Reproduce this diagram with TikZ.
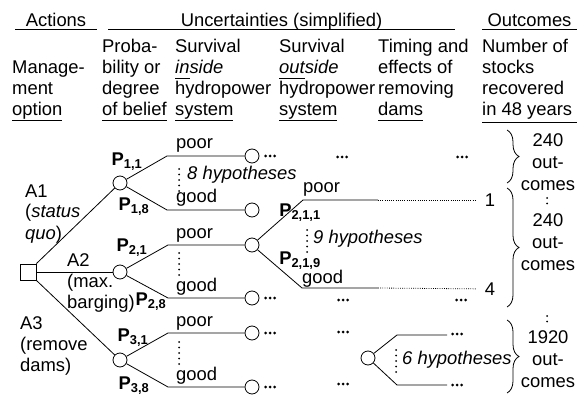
\documentclass[tikz,border=0pt]{standalone}
\usepackage{fontspec}
\setmainfont{Liberation Sans}
\usetikzlibrary{decorations.pathreplacing}
\newcommand\myul[1]{\setbox0\hbox{#1}\rlap{\rule[-5pt]{\wd0}{0.9pt}}\box0}
\begin{document}
\begin{tikzpicture}[x=1pt,y=-1pt,
  font=\fontsize{18.4}{21}\selectfont,
  every node/.style={inner sep=0pt},
  txt/.style={anchor=base west},
  ctr/.style={anchor=base},
  chance/.style={circle, draw, minimum size=14pt, inner sep=0pt, line width=0.8pt, fill=white},
  decision/.style={rectangle, draw, minimum size=16pt, inner sep=0pt, line width=0.8pt},
  edge/.style={line width=0.8pt},
  rulel/.style={line width=0.9pt},
  vdots/.style={line width=2pt, line cap=round, dash pattern=on 0pt off 5.5pt},
  fdots/.style={line width=0.8pt, dash pattern=on 0.8pt off 1.4pt},
  plabel/.style={font=\fontsize{18.4}{21}\selectfont\bfseries},
  hyp/.style={anchor=base west, font=\fontsize{18.4}{21}\selectfont\itshape},
  brc/.style={decorate, decoration={brace, amplitude=12pt}, line width=0.8pt},
  ell/.pic={\fill (-4.5,0) circle (1.5pt) (0,0) circle (1.5pt) (4.5,0) circle (1.5pt);}
]
\useasboundingbox (0,0) rectangle (588,395);

% ---- header row 1
\node[ctr] (hAct) at (56,27) {Actions};
\node[ctr] (hUnc) at (281.5,27) {Uncertainties (simplified)};
\node[ctr] (hOut) at (529.5,27) {Outcomes};
\draw[rulel] (15,29.5) -- (97,29.5);
\draw[rulel] (108,29.5) -- (455,29.5);
\draw[rulel] (482,29.5) -- (577,29.5);

% ---- header row 2
\node[txt] (c1b) at (12,74) {Manage-};
\node[txt] (c1c) at (12,95) {ment};
\node[txt] (c1d) at (12,116) {\myul{option}};

\node[txt] (c2a) at (102,53) {Proba-};
\node[txt] (c2b) at (102,74) {bility or};
\node[txt] (c2c) at (102,95) {degree};
\node[txt] (c2d) at (102,116) {\myul{of belief}};

\node[txt] (c3a) at (175,53) {Survival};
\node[txt] (c3b) at (175,74) {\textit{\myul{in}side}};
\node[txt] (c3c) at (175,95) {hydropower};
\node[txt] (c3d) at (175,116) {\myul{system}};

\node[txt] (c4a) at (279,53) {Survival};
\node[txt] (c4b) at (279,74) {\textit{\myul{out}side}};
\node[txt] (c4c) at (279,95) {hydropower};
\node[txt] (c4d) at (279,116) {\myul{system}};

\node[txt] (c5a) at (378,53) {Timing and};
\node[txt] (c5b) at (378,74) {effects of};
\node[txt] (c5c) at (378,95) {removing};
\node[txt] (c5d) at (378,116) {\myul{dams}};

\node[txt] (c6a) at (482,53) {Number of};
\node[txt] (c6b) at (482,74) {stocks};
\node[txt] (c6c) at (482,95) {recovered};
\node[txt] (c6d) at (482,116) {in 48 years};
\draw[rulel] (482,122) -- (577,122);

% ---- tree nodes
\node[decision] (dec) at (28,272) {};
\node[chance] (c1) at (120,183) {};
\node[chance] (c2) at (120,272) {};
\node[chance] (c3) at (120,360) {};
\node[chance] (t11) at (252,156) {};
\node[chance] (t18) at (252,210) {};
\node[chance] (t21) at (252,245) {};
\node[chance] (t28) at (252,298) {};
\node[chance] (t31) at (252,333) {};
\node[chance] (t38) at (252,387) {};
\node[chance] (c6) at (368,358) {};

\coordinate (b11) at (167,156);
\coordinate (b18) at (167,210);
\coordinate (b21) at (168,245);
\coordinate (b28) at (168,298);
\coordinate (b31) at (168,333);
\coordinate (b38) at (168,387);
\coordinate (s1) at (303,200);
\coordinate (e1) at (378,200);
\coordinate (s9) at (302,288);
\coordinate (e9) at (378,288);
\coordinate (h1) at (397,335);
\coordinate (h1e) at (447,335);
\coordinate (h6) at (397,385);
\coordinate (h6e) at (447,385);

% action edges
\draw[edge] (dec.north east) -- (c1);
\draw[edge] (dec) -- (c2);
\draw[edge] (dec.south east) -- (c3);
% probability edges
\draw[edge] (c1) -- (b11) -- (t11);
\draw[edge] (c1) -- (b18) -- (t18);
\draw[edge] (c2) -- (b21) -- (t21);
\draw[edge] (c2) -- (b28) -- (t28);
\draw[edge] (c3) -- (b31) -- (t31);
\draw[edge] (c3) -- (b38) -- (t38);
% sub-tree
\node (n1) at (490,200) {1};
\node (n4) at (490,289) {4};
\draw[edge] (t21) -- (s1) -- (e1);
\draw[edge] (t21) -- (s9) -- (e9);
\draw[fdots, shorten >=8pt] (e1) -- (n1);
\draw[fdots, shorten >=8pt] (e9) -- (n4);
\draw[edge] (c6) -- (h1) -- (h1e);
\draw[edge] (c6) -- (h6) -- (h6e);

% action labels
\node[txt] (a1a) at (25,197) {A1};
\node[txt] (a1b) at (25,218) {(\textit{status}};
\node[txt] (a1c) at (25,239) {\textit{quo})};
\node[txt] (a2a) at (67,266) {A2};
\node[txt] (a2b) at (67,287) {(max.};
\node[txt] (a2c) at (67,308) {barging)};
\node[txt] (a3a) at (20,329) {A3};
\node[txt] (a3b) at (20,350) {(remove};
\node[txt] (a3c) at (20,371) {dams)};

% probability labels
\node[plabel] (p11) at (127,162) {P\textsubscript{1,1}};
\node[plabel] (p18) at (134,207) {P\textsubscript{1,8}};
\node[plabel] (p21) at (132,247.5) {P\textsubscript{2,1}};
\node[plabel] (p28) at (151,302) {P\textsubscript{2,8}};
\node[plabel] (p31) at (133,337.5) {P\textsubscript{3,1}};
\node[plabel] (p38) at (134,386) {P\textsubscript{3,8}};
\node[plabel] (p211) at (300,213) {P\textsubscript{2,1,1}};
\node[plabel] (p219) at (300,260.5) {P\textsubscript{2,1,9}};

% poor / good
\node[txt] (po1) at (176,149) {poor};
\node[txt] (go1) at (176,203) {good};
\node[txt] (po2) at (176,238) {poor};
\node[txt] (go2) at (176,291) {good};
\node[txt] (po3) at (176,326) {poor};
\node[txt] (go3) at (176,380) {good};
\node[txt] (po4) at (303,193) {poor};
\node[txt] (go4) at (302,283) {good};

% hypotheses
\node[hyp] (hy8) at (187,180) {8 hypotheses};
\node[hyp] (hy9) at (313,243) {9 hypotheses};
\node[hyp] (hy6) at (402,364) {6 hypotheses};
\draw[vdots] (179,169) -- (179,191);
\draw[vdots] (179,253) -- (179,275);
\draw[vdots] (179,342) -- (179,364);
\draw[vdots] (307,230) -- (307,252);
\draw[vdots] (396,350) -- (396,372);

% ellipses
\pic at (270,156) {ell};
\pic at (342,157) {ell};
\pic at (462,157) {ell};
\pic at (270,298) {ell};
\pic at (343,300) {ell};
\pic at (461,300) {ell};
\pic at (270,333) {ell};
\pic at (343,332) {ell};
\pic at (270,387) {ell};
\pic at (343,384) {ell};
\pic at (457,334) {ell};
\pic at (457,385) {ell};

% outcomes column
\node[ctr] (o1a) at (548,147) {240};
\node[ctr] (o1b) at (548,169) {out-};
\node[ctr] (o1c) at (548,191) {comes};
\draw[vdots] (547,198) -- (547,209);
\node[ctr] (o2a) at (548,226) {240};
\node[ctr] (o2b) at (548,248) {out-};
\node[ctr] (o2c) at (548,270) {comes};
\draw[vdots] (547,316) -- (547,327);
\node[ctr] (o3a) at (548,343) {1920};
\node[ctr] (o3b) at (548,365) {out-};
\node[ctr] (o3c) at (548,387) {comes};

% braces
\draw[brc] (507,130) -- (507,183);
\draw[brc] (507,188) -- (507,307);
\draw[brc] (507,320) -- (507,393);
\end{tikzpicture}
\end{document}
